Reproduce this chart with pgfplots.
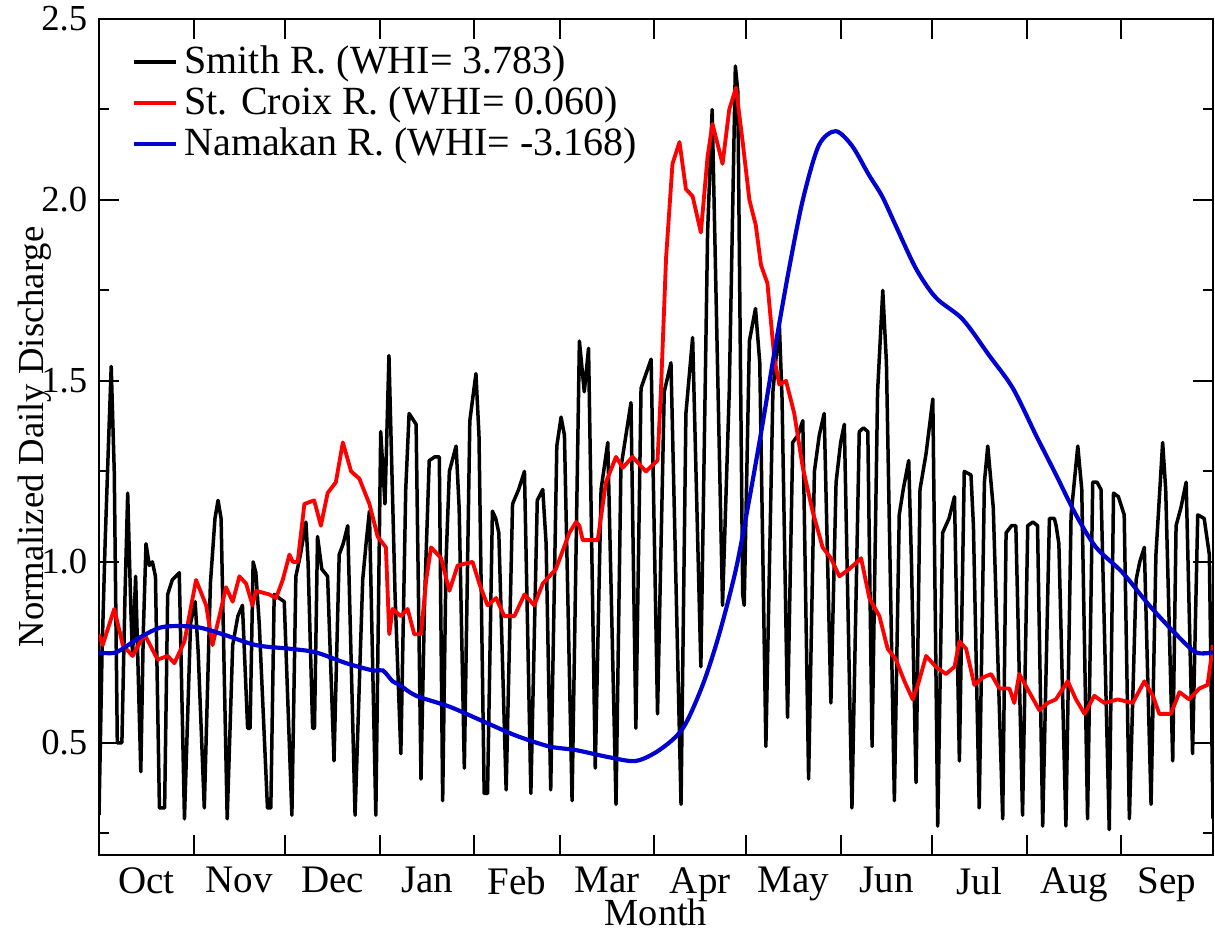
\documentclass[border=0pt]{standalone}
\usepackage{fontspec}
\setmainfont{Liberation Serif}
\usepackage{pgfplots}
\pgfplotsset{compat=1.18}
\definecolor{croixc}{rgb}{1,0,0}
\definecolor{namakc}{rgb}{0,0,0.82}
\begin{document}
\begin{tikzpicture}
\begin{axis}[
  scale only axis, width=334.2pt, height=250.8pt,
  xmin=0, xmax=365, ymin=0.19, ymax=2.5,
  axis line style={line width=0.6pt},
  tick align=inside, major tick length=6pt, minor tick length=3pt,
  every tick/.style={black, line width=0.6pt},
  xtick={0,31,61,92,123,151,182,212,243,273,304,335,365},
  xticklabels={Oct,Nov,Dec,Jan,Feb,Mar,Apr,May,Jun,Jul,Aug,Sep},
  x tick label as interval,
  xticklabel style={font=\fontsize{11.7}{12.5}\selectfont, yshift=-2.5pt, inner sep=1pt},
  ytick={0.5,1.0,1.5,2.0,2.5}, minor ytick={0.25,0.75,1.25,1.75,2.25},
  yticklabel style={font=\fontsize{11}{12}\selectfont,/pgf/number format/.cd, fixed, fixed zerofill, precision=1, assume math mode=true},
  xlabel={Month}, ylabel={Normalized Daily Discharge},
  xlabel style={font=\fontsize{11.5}{12}\selectfont, at={(axis description cs:0.5,-0.069)}, anchor=center, inner sep=0pt},
  ylabel style={font=\fontsize{11}{12}\selectfont, at={(axis description cs:-0.058,0.5)}, anchor=center},
  legend style={draw=none, fill=none, at={(axis description cs:0.02,0.985)}, anchor=north west,
    font=\fontsize{12}{13.4}\selectfont, row sep=-1.5pt, cells={anchor=west}},
  legend image code/.code={\draw[#1] (0pt,0pt) -- (12.5pt,0pt);},
]
\addplot[black, line width=1.05pt, line join=round] coordinates {
(0,0.30) (1,0.75) (2,1.05) (3,1.3) (4,1.54) (5,1.25) (6,0.50) (7.5,0.50) (8.5,0.9) (9.4,1.19) (10.5,0.85) (11,0.74) (12,0.96) (13.7,0.42) (14.5,0.8) (15.4,1.05) (16.5,0.99) (17.5,1.0) (18.5,0.96) (19.8,0.32) (21.5,0.32) (22.5,0.91) (24,0.95) (26.3,0.97) (28,0.29) (30,0.83) (31.5,0.89) (32.5,0.75) (34.5,0.32) (36.5,0.94) (38,1.12) (39,1.17) (40,1.12) (42,0.29) (43.8,0.77) (45.5,0.85) (47,0.88) (48.7,0.54) (49.5,0.54) (50.5,1.0)
(51.4,0.97) (52.5,0.83) (55.2,0.32) (56.3,0.32) (57.4,0.91) (59,0.9) (60.7,0.89) (63.2,0.30) (64.5,0.96) (66,1.02) (67.8,1.11) (68.5,1.0) (70.0,0.54) (70.6,0.54) (71.6,1.07) (73,0.98) (74.9,0.96) (77,0.45) (78.7,1.02) (80,1.05) (81.5,1.10) (83.9,0.30) (86.4,0.95) (87.5,1.05) (88.6,1.14) (90.7,0.30) (92.3,1.36) (93.7,1.16) (95,1.57) (97,0.91) (98.9,0.47) (100.5,1.2) (101.6,1.41)
(103.9,1.38) (105.5,0.40) (106.7,0.9) (108.2,1.28) (110,1.29) (111.5,1.29) (112.6,0.34) (113.7,1.0) (114.8,1.25) (117,1.32) (118,1.15) (119.7,0.43) (121.5,1.39) (123.5,1.52) (124.5,1.35) (126.2,0.36) (127.3,0.36) (128.9,1.14) (130,1.12) (131,1.08) (133.4,0.37) (135.5,1.16) (137.5,1.2) (139.4,1.25) (141.5,0.36) (143.6,1.17) (145.4,1.20) (146.5,1.05) (148,0.37) (150,1.32) (151.4,1.40) (152.5,1.35) (155,0.34)
(157.4,1.61) (159,1.47) (160.4,1.59) (162.6,0.43) (164.5,1.20) (166.7,1.33) (169.4,0.33) (171,1.26) (174.3,1.44) (175.9,0.54) (177.6,1.48) (180.9,1.56) (183,0.58) (185.2,1.47) (187.4,1.55) (190.7,0.33) (192.3,1.41) (194.5,1.62) (197.2,0.71) (199.4,1.91) (200.9,2.25) (204.3,0.88) (206.5,1.47) (208.5,2.37)
(209.3,2.3) (210.9,0.91) (211.4,0.88) (213.1,1.61) (215.1,1.70) (216.5,1.55) (218.5,0.49) (220.8,1.47) (222.9,1.66) (223.8,1.45) (225.6,0.57) (227.3,1.33) (229,1.35) (230.6,1.39) (232.5,0.40) (234.4,1.25) (236,1.35) (237.6,1.41) (239.8,0.61) (241.5,1.22) (243,1.33) (244.2,1.38) (246.7,0.32) (249.1,1.36) (250.5,1.37) (251.9,1.36) (253.3,0.49) (255.1,1.47) (256.8,1.75) (258,1.55) (260.6,0.34)
(262.2,1.13) (263.5,1.2) (265.3,1.28) (266.2,1.0) (267.7,0.39) (269,1.20) (271,1.3) (273.2,1.45) (274.8,0.27) (276.4,1.08) (278.5,1.12) (280.3,1.18) (281.9,0.45) (283.5,1.25) (285.7,1.24) (286.5,1.1) (288.4,0.32) (290.1,1.22) (291.2,1.32) (293,1.15) (296.1,0.29) (297.2,1.08) (299,1.10) (300.4,1.10) (302.6,0.30) (304.3,1.10) (306,1.11) (307.5,1.10) (309.2,0.27) (311.4,1.12) (313,1.12)
(313.6,1.10) (314.5,1.05) (316.8,0.27) (318.5,1.13) (320.7,1.32) (322,1.2) (323.9,0.29) (325.6,1.22) (327,1.22) (328.3,1.20) (331,0.26) (332.4,1.19) (334,1.18) (335.9,1.13) (337.6,0.29) (339.8,0.95) (341,1.0) (342.5,1.04) (344.7,0.33) (346.3,1.02) (348.5,1.33) (349.5,1.2) (351.8,0.45) (352.9,1.10) (354.5,1.15) (356.2,1.22) (358.3,0.47) (360,1.13) (362.1,1.12) (363.8,1.02) (365,0.29)
};
\addlegendentry{Smith R. (WHI= 3.783)}
\addplot[croixc, line width=1.15pt, line join=round] coordinates {
(0,0.80) (1.2,0.77) (5,0.87) (7.8,0.77) (11,0.74) (14.9,0.80) (19.2,0.73) (22.5,0.74) (24.7,0.72) (28,0.78) (31.8,0.95) (35.1,0.88) (37.2,0.77) (40,0.87) (41.6,0.93) (43.8,0.89) (46,0.96) (48.2,0.94) (50.3,0.88)
(51.4,0.92) (55.8,0.91) (58,0.90) (60.2,0.95) (62.4,1.02) (63.5,1.0) (65.1,1.0) (67.3,1.16) (70.5,1.17) (72.7,1.10) (74.9,1.19) (77.6,1.22) (79.9,1.33) (82.6,1.25) (85.3,1.23) (88.6,1.16) (91.3,1.07) (94,1.04) (95.1,0.80) (96.2,0.87) (98.9,0.85) (101.1,0.87) (103.3,0.80)
(105.5,0.80) (107.2,0.95) (108.8,1.04) (112.1,1.01) (114.8,0.92) (117.5,0.99) (122.4,1.00) (124.6,0.94) (127.3,0.88) (130.1,0.90) (132.8,0.85) (136.1,0.85) (139.4,0.91) (142.6,0.88) (145.4,0.94) (149.7,0.98) (154.1,1.08) (156.3,1.11)
(157.4,1.10) (158.5,1.06) (163.4,1.06) (166.1,1.22) (169.4,1.29) (171.6,1.26) (174.8,1.29) (179.2,1.25) (183,1.28) (184.1,1.47) (185.8,1.84) (187.9,2.10) (190.2,2.16) (192.3,2.03) (194.5,2.01) (197.2,1.91) (199.4,2.12) (201,2.21) (204.3,2.10) (206.5,2.25) (208.7,2.31)
(210.9,2.16) (213.1,2.0) (215.2,1.93) (216.9,1.82) (219,1.77) (221.3,1.56) (222.9,1.49) (225.1,1.50) (227.8,1.41) (230.6,1.26) (233.8,1.14) (237.1,1.04) (239.8,1.01) (242.6,0.96) (245.8,0.98) (249.7,1.01) (252.4,0.90) (255.7,0.85) (258.4,0.76) (261.1,0.73)
(263.9,0.67) (266.6,0.62) (268.3,0.66) (271,0.74) (274.2,0.71) (277.5,0.69) (280.3,0.71) (281.9,0.78) (284.1,0.76) (286.8,0.66) (289.5,0.68) (292.3,0.69) (295,0.65) (298.3,0.65) (299.9,0.61) (301.5,0.69) (304.8,0.64) (308.1,0.59) (310.8,0.61) (313.5,0.62)
(317.4,0.67) (320.1,0.62) (322.9,0.58) (326.1,0.63) (329.4,0.61) (333.8,0.62) (338.7,0.61) (342.5,0.67) (345.3,0.63) (347.4,0.58) (351.2,0.58) (354.0,0.64) (357.2,0.62) (360.5,0.65) (363.2,0.66) (365,0.77)
};
\addlegendentry{St. Croix R. (WHI= 0.060)}
\addplot[namakc, line width=1.25pt, smooth, tension=0.5] coordinates {
(0,0.75) (5.6,0.75) (13.2,0.79) (20.9,0.82) (31.8,0.82) (40.5,0.80) (51.4,0.77) (62.4,0.76) (71,0.75) (81,0.72) (89.7,0.70) (93,0.70) (96.2,0.67) (98.5,0.66) (103.9,0.63) (114.8,0.60) (125.7,0.56) (136.6,0.52) (147.5,0.49) (156.2,0.48) (167.2,0.46) (175.9,0.45) (183.6,0.48) (191.3,0.54) (197.8,0.66) (203.2,0.80) (208.7,0.98) (213,1.17) (217.4,1.38) (221.7,1.60) (226.1,1.81) (230.6,2.0) (235.8,2.15) (241.3,2.19) (246.7,2.15) (252.2,2.07) (256.6,2.01) (261,1.93) (267.7,1.81) (274.2,1.73) (283,1.67) (291.7,1.57) (299.4,1.48) (307,1.35) (313.6,1.24) (320.1,1.13) (326.7,1.04) (335.4,0.97) (344.1,0.88) (352.9,0.80) (359.4,0.75) (365,0.75)
};
\addlegendentry{Namakan R. (WHI= -3.168)}
\end{axis}
\pgfresetboundingbox
\path[use as bounding box] (-29.7pt,-22.5pt) rectangle (334.8pt,256.5pt);
\end{tikzpicture}
\end{document}
